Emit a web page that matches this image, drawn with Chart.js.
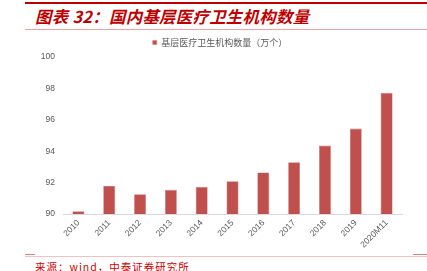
<!DOCTYPE html>
<html>
<head>
<meta charset="utf-8">
<script src="https://cdn.jsdelivr.net/npm/chart.js@4"></script>
<style>
  html, body { margin: 0; padding: 0; background: #fff; }
  body { width: 427px; height: 271px; position: relative; overflow: hidden; }
  .topline { position: absolute; left: 25px; right: 0; top: 2px; height: 2px; background: #c00000; }
  .title { position: absolute; left: 35px; top: 4px; font: italic bold 16.4px "Noto Sans CJK SC", sans-serif; color: #c00000; white-space: nowrap; letter-spacing: 0.3px; }
  .subline { position: absolute; left: 25px; right: 0; top: 29px; height: 1px; background: #f2a0a0; }
  .botline { position: absolute; left: 25px; right: 0; top: 256px; height: 1px; background: #f6c0c0; }
  .mark { position: absolute; top: 254px; height: 1px; background: #e08080; }
  .source { position: absolute; left: 35px; top: 259px; font: 10.5px "Noto Sans CJK SC", sans-serif; color: #d00000; white-space: nowrap; letter-spacing: 1px; }
  #wrap { position: absolute; left: 0; top: 32px; width: 427px; height: 220px; }
</style>
</head>
<body>
<div class="topline"></div>
<div class="title">图表 32：国内基层医疗卫生机构数量</div>
<div class="subline"></div>
<div id="wrap"><canvas id="c"></canvas></div>
<div class="mark" style="left:25px;width:10px"></div>
<div class="mark" style="left:413px;width:14px"></div>
<div class="botline"></div>
<div class="source">来源：wind，中泰证券研究所</div>
<script>
  const years = ['2010','2011','2012','2013','2014','2015','2016','2017','2018','2019','2020M11'];
  const counts = [90.17, 91.80, 91.26, 91.54, 91.73, 92.08, 92.65, 93.30, 94.36, 95.44, 97.70];
  const yTicks = [90, 92, 94, 96, 98, 100];
  const seriesName = '基层医疗卫生机构数量（万个）';

  Chart.defaults.font.family = '"Liberation Sans", Arial, sans-serif';
  Chart.defaults.color = '#595959';

  new Chart(document.getElementById('c'), {
    type: 'bar',
    data: {
      labels: years,
      datasets: [{ label: seriesName, data: counts, backgroundColor: '#c0504d', borderColor: '#d47a77', borderWidth: 0.6, barPercentage: 0.78, categoryPercentage: 0.5 }]
    },
    options: {
      responsive: true, maintainAspectRatio: false, animation: false,
      layout: { padding: { left: 38, right: 25, top: 0, bottom: 0 } },
      scales: {
        x: {
          grid: { display: false, drawTicks: false },
          border: { display: true, color: '#d9d9d9', width: 1 },
          ticks: { minRotation: 45, maxRotation: 45, autoSkip: false, padding: 4, font: { size: 8.5 } },
          afterFit: s => { s.height = 38; }
        },
        y: {
          min: 90, max: 100,
          grid: { display: false, drawTicks: false },
          border: { display: false },
          ticks: { stepSize: 2, padding: 8, font: { size: 8.5 }, callback: v => yTicks.includes(v) ? v : '' },
          afterFit: s => { s.width = 25; }
        }
      },
      plugins: {
        legend: { position: 'top', labels: { boxWidth: 4, boxHeight: 4, padding: 6, color: '#595959', font: { size: 9, family: '"Noto Sans CJK SC", sans-serif' } } },
        tooltip: { enabled: false }
      }
    }
  });
</script>
</body>
</html>
